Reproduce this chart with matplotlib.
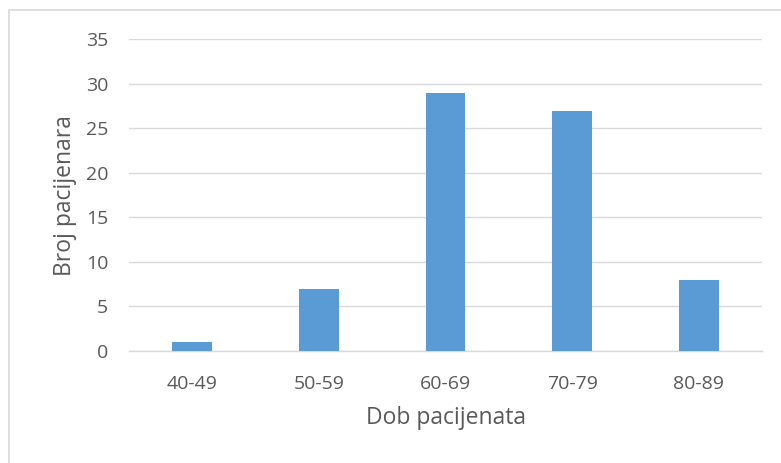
import matplotlib.pyplot as plt
from matplotlib.patches import Rectangle

# podaci
dobne_skupine = ['40-49', '50-59', '60-69', '70-79', '80-89']
broj_pacijenata = [1, 7, 29, 27, 8]
y_ticks = [0, 5, 10, 15, 20, 25, 30, 35]

plt.rcParams['font.family'] = ['Open Sans', 'DejaVu Sans']

fig = plt.figure(figsize=(7.81, 4.63), dpi=100)

# okvir grafikona (izlazi preko desnog i donjeg ruba)
fig.patches.append(Rectangle((8.5 / 781, -0.1), 1.2, 1 - 10 / 463 + 0.1,
                             transform=fig.transFigure, fill=False,
                             edgecolor='#d9d9d9', linewidth=1.2, zorder=0))

ax = fig.add_axes([129 / 781, 1 - 351 / 463, (762 - 129) / 781, (351 - 39.3) / 463])
x = range(len(dobne_skupine))
ax.bar(x, broj_pacijenata, width=0.315, color='#5b9bd5', zorder=3)

ax.set_xlim(-0.5, len(dobne_skupine) - 0.5)
ax.set_ylim(0, 35)
ax.set_yticks(y_ticks)
ax.set_xticks(list(x))
ax.set_xticklabels(dobne_skupine)

ax.grid(axis='y', color='#d9d9d9', linewidth=1, zorder=0)
for s in ['top', 'right', 'left']:
    ax.spines[s].set_visible(False)
ax.spines['bottom'].set_color('#d9d9d9')
ax.spines['bottom'].set_linewidth(1)
ax.tick_params(length=0, colors='#595959', labelsize=14)
ax.tick_params(axis='x', pad=17)
ax.tick_params(axis='y', pad=15)

ax.set_xlabel('Dob pacijenata', fontsize=16.5, color='#595959', labelpad=10)
ax.set_ylabel('Broj pacijenara', fontsize=16.5, color='#595959', labelpad=6)

fig.savefig('out.png', dpi=100)
